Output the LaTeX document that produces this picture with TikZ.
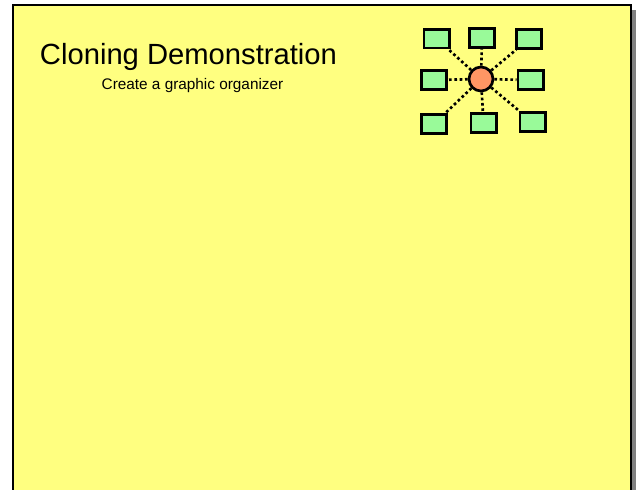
\documentclass[tikz,border=0pt]{standalone}
\usepackage{fontspec}
\setmainfont{Liberation Sans}
\usetikzlibrary{backgrounds}
\definecolor{slideyellow}{RGB}{255,255,128}
\definecolor{boxgreen}{RGB}{153,250,153}
\definecolor{hubor}{RGB}{255,150,100}
\definecolor{shadowgray}{RGB}{128,128,128}
\begin{document}
\begin{tikzpicture}[x=0.75pt,y=-0.75pt,
  leaf/.style={draw=black,line width=2pt,fill=boxgreen,minimum width=19pt,minimum height=14pt,inner sep=0pt},
  hub/.style={circle,draw=black,line width=2pt,fill=hubor,minimum size=18pt,inner sep=0pt},
  link/.style={line width=2pt,dash pattern=on 2pt off 2pt}]
\useasboundingbox (0,0) rectangle (638,489);
\begin{scope}[on background layer]
\fill[white] (0,0) rectangle (638,489);
% shadow and slide
\fill[shadowgray] (18,10) rectangle (636,500);
\draw[line width=1.8pt,fill=slideyellow] (13,5) rectangle (631,500);
\end{scope}
% title
\node[anchor=base,inner sep=0pt,font=\fontsize{21.9}{26}\selectfont] (title) at (188.5,64.3) {Cloning Demonstration};
\node[anchor=base,inner sep=0pt,font=\fontsize{11.5}{14}\selectfont] (subtitle) at (192.5,89) {Create a graphic organizer};
% organizer
\node[hub] (hubc) at (481,79) {};
\node[leaf] (tl) at (436.5,38.5) {};
\node[leaf] (tm) at (482,38) {};
\node[leaf] (tr) at (529,39) {};
\node[leaf] (ml) at (434,80) {};
\node[leaf] (mr) at (530.5,80) {};
\node[leaf] (bl) at (434,124) {};
\node[leaf] (bm) at (483.5,123) {};
\node[leaf] (br) at (532.5,122) {};
\foreach \n in {tl,tm,tr,ml,mr,bl,bm,br}{
  \draw[link] (hubc) -- (\n);
}
\end{tikzpicture}
\end{document}
